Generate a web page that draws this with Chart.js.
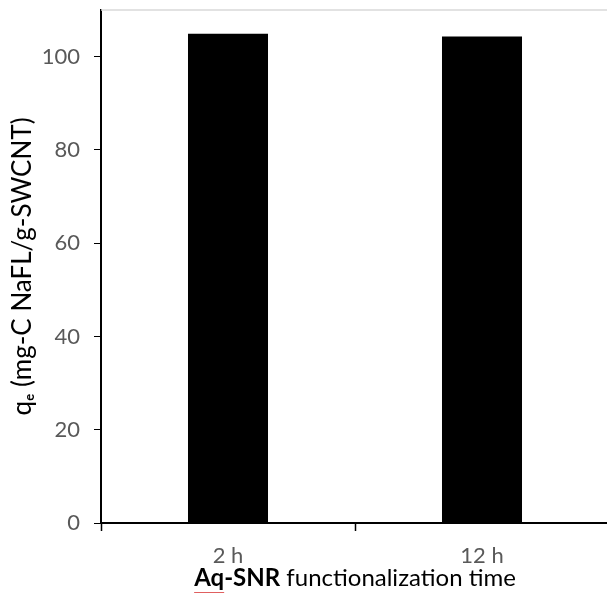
<!DOCTYPE html>
<html>
<head>
<meta charset="utf-8">
<script src="https://cdn.jsdelivr.net/npm/chart.js@4/dist/chart.umd.min.js"></script>
<style>
  html, body { margin: 0; padding: 0; background: #fff; overflow: hidden; }
  #wrap { width: 610px; height: 594px; position: relative; }
</style>
</head>
<body>
<div id="wrap"><canvas id="c"></canvas></div>
<script>
const categories = ['2 h', '12 h'];
const qeValues = [104.9, 104.3];
const yTickValues = [0, 20, 40, 60, 80, 100];
const yTitle = 'q\u2091 (mg-C NaFL/g-SWCNT)';
const xTitleBold = 'Aq-SNR';
const xTitleRest = ' functionalization time';

const FONT = 'Lato, "Open Sans", sans-serif';

const xTitlePlugin = {
  id: 'xTitlePlugin',
  afterDraw(chart) {
    const ctx = chart.ctx;
    const area = chart.chartArea;
    ctx.save();
    ctx.textBaseline = 'alphabetic';
    ctx.fillStyle = '#000';
    const boldFont = 'bold 24px ' + FONT;
    const normFont = '24px ' + FONT;
    ctx.font = boldFont;
    const w1 = ctx.measureText(xTitleBold).width;
    ctx.font = normFont;
    const w2 = ctx.measureText(xTitleRest).width;
    const x0 = 355 - (w1 + w2) / 2;
    const y = 586;
    ctx.font = boldFont;
    ctx.fillText(xTitleBold, x0, y);
    ctx.font = normFont;
    ctx.fillText(xTitleRest, x0 + w1, y);
    // spell-check squiggle under "Aq"
    ctx.font = boldFont;
    const wAq = ctx.measureText('Aq').width;
    ctx.strokeStyle = '#e06060';
    ctx.lineWidth = 1;
    ctx.beginPath();
    ctx.moveTo(x0, y + 6.5);
    ctx.lineTo(x0 + wAq, y + 6.5);
    ctx.stroke();
    // top light border
    ctx.strokeStyle = '#d9d9d9';
    ctx.lineWidth = 1.5;
    ctx.beginPath();
    ctx.moveTo(area.left, area.top);
    ctx.lineTo(area.right, area.top);
    ctx.stroke();
    ctx.restore();
  }
};

new Chart(document.getElementById('c'), {
  type: 'bar',
  data: {
    labels: categories,
    datasets: [{
      data: qeValues,
      backgroundColor: '#000',
      borderColor: '#000',
      borderWidth: 0,
      categoryPercentage: 1.0,
      barPercentage: 0.315
    }]
  },
  options: {
    responsive: true,
    maintainAspectRatio: false,
    animation: false,
    events: [],
    layout: { padding: { top: 10, right: 1, left: 0, bottom: 0 } },
    plugins: { legend: { display: false }, tooltip: { enabled: false }, title: { display: false } },
    scales: {
      x: {
        type: 'category',
        offset: true,
        grid: { display: true, offset: true, drawOnChartArea: false, tickLength: 8, color: '#000', tickWidth: 1.5 },
        border: { display: true, color: '#000', width: 2 },
        ticks: { color: '#595959', font: { family: FONT, size: 22 }, padding: 12, maxRotation: 0 },
        afterFit(s) { s.height = 71; s.paddingLeft = 0; s.paddingRight = 0; }
      },
      y: {
        min: 0, max: 110,
        afterBuildTicks(s) { s.ticks = yTickValues.map(v => ({ value: v })); },
        grid: { display: true, drawOnChartArea: false, tickLength: 7, color: '#000', tickWidth: 1 },
        border: { display: true, color: '#000', width: 2 },
        ticks: { color: '#595959', font: { family: FONT, size: 22 }, padding: 14 },
        title: { display: true, text: yTitle, color: '#000', font: { family: FONT, size: 26 }, padding: { top: 7, bottom: 0 } },
        afterFit(s) { s.width = 101; s.paddingTop = 0; s.paddingBottom = 0; }
      }
    }
  },
  plugins: [xTitlePlugin]
});
</script>
</body>
</html>
